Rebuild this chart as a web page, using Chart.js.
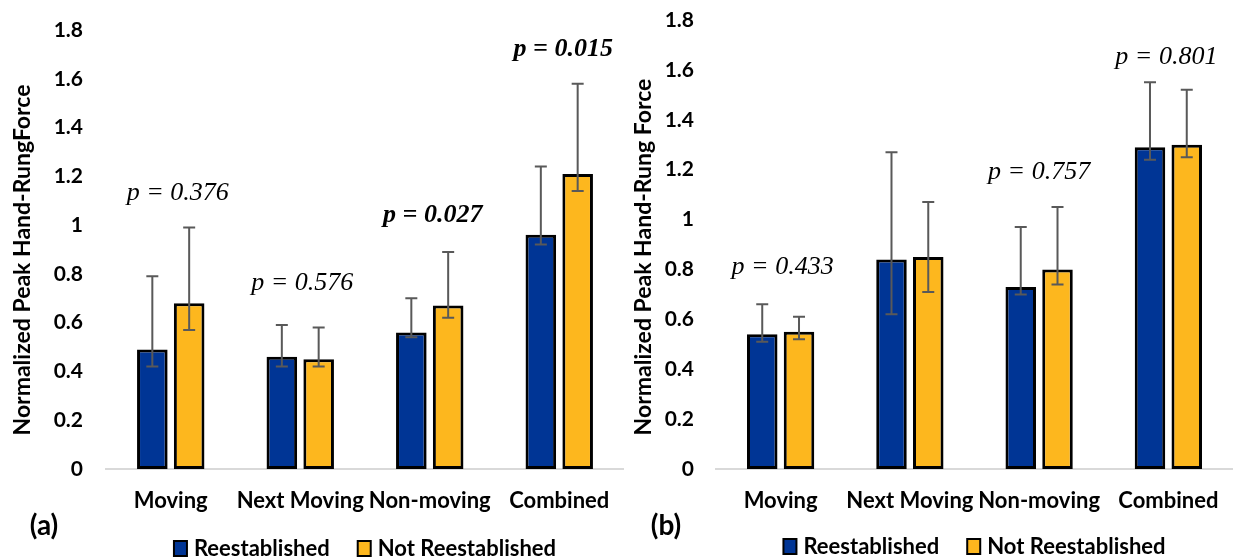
<!DOCTYPE html>
<html>
<head>
<meta charset="utf-8">
<script src="https://cdn.jsdelivr.net/npm/chart.js@4.4.1/dist/chart.umd.min.js"></script>
<style>
  html, body { margin: 0; padding: 0; background: #fff; }
  body { width: 1233px; height: 559px; position: relative; overflow: hidden; }
  .panel { position: absolute; top: 0; height: 559px; }
  #wrapA { left: 0; width: 624px; }
  #wrapB { left: 620px; width: 613px; }
</style>
</head>
<body>
<div class="panel" id="wrapA"><canvas id="chartA"></canvas></div>
<div class="panel" id="wrapB"><canvas id="chartB"></canvas></div>
<script>
const categories = ["Moving", "Next Moving", "Non-moving", "Combined"];
const seriesNames = ["Reestablished", "Not Reestablished"];
const yTicks = [0, 0.2, 0.4, 0.6, 0.8, 1, 1.2, 1.4, 1.6, 1.8];

// panel (a)
const aReest = [0.49, 0.46, 0.56, 0.96];
const aReestLow = [0.42, 0.42, 0.54, 0.92];
const aReestHigh = [0.79, 0.59, 0.7, 1.24];
const aNotReest = [0.68, 0.45, 0.67, 1.21];
const aNotReestLow = [0.57, 0.42, 0.62, 1.14];
const aNotReestHigh = [0.99, 0.58, 0.89, 1.58];
const aPValues = ["p = 0.376", "p = 0.576", "p = 0.027", "p = 0.015"];
const aPBold = [false, false, true, true];

// panel (b)
const bReest = [0.54, 0.84, 0.73, 1.29];
const bReestLow = [0.51, 0.62, 0.7, 1.24];
const bReestHigh = [0.66, 1.27, 0.97, 1.55];
const bNotReest = [0.55, 0.85, 0.8, 1.3];
const bNotReestLow = [0.52, 0.71, 0.74, 1.25];
const bNotReestHigh = [0.61, 1.07, 1.05, 1.52];
const bPValues = ["p = 0.433", "", "p = 0.757", "p = 0.801"];
const bPBold = [false, false, false, false];

const BLUE = "#003595";
const ORANGE = "#fdb71e";
const SANS = "Lato, 'Open Sans', sans-serif";
const SERIF = "'Liberation Serif', 'DejaVu Serif', serif";

// error bars, p-values, y title, panel letter and legend
const extrasPlugin = {
  id: "extras",
  afterDatasetsDraw(chart, args, opts) {
    const ctx = chart.ctx;
    const y = chart.scales.y;
    const x = chart.scales.x;
    ctx.save();
    ctx.strokeStyle = "#595959";
    ctx.lineWidth = 2;
    chart.data.datasets.forEach((ds, di) => {
      const meta = chart.getDatasetMeta(di);
      meta.data.forEach((bar, i) => {
        const lo = y.getPixelForValue(ds.errLow[i]);
        const hi = y.getPixelForValue(ds.errHigh[i]);
        ctx.beginPath();
        ctx.moveTo(bar.x, lo);
        ctx.lineTo(bar.x, hi);
        ctx.moveTo(bar.x - 6, lo);
        ctx.lineTo(bar.x + 6, lo);
        ctx.moveTo(bar.x - 6, hi);
        ctx.lineTo(bar.x + 6, hi);
        ctx.stroke();
      });
    });

    ctx.fillStyle = "#000";
    ctx.textAlign = "center";
    ctx.textBaseline = "middle";
    opts.pValues.forEach((txt, i) => {
      if (!txt) return;
      ctx.font = (opts.pBold[i] ? "italic bold " : "italic ") + "26px " + SERIF;
      ctx.fillText(txt, x.getPixelForValue(i) + opts.pDx[i], y.getPixelForValue(opts.pY[i]));
    });

    // rotated y title
    ctx.save();
    ctx.translate(opts.titleX, opts.titleY);
    ctx.rotate(-Math.PI / 2);
    ctx.font = "bold 23px " + SANS;
    ctx.fillText(opts.yTitle, 0, 0);
    ctx.restore();

    ctx.font = "bold 28px " + SANS;
    ctx.fillText(opts.letter, opts.letterX, 526);

    // legend
    ctx.font = "bold 22px " + SANS;
    const box = 13, gap = 7, sep = 28;
    const items = chart.data.datasets.map(d => ({ label: d.label, color: d.backgroundColor, w: ctx.measureText(d.label).width }));
    let total = items.reduce((s, it) => s + box + gap + it.w, 0) + sep * (items.length - 1);
    let lx = (chart.chartArea.left + chart.chartArea.right) / 2 - total / 2;
    const ly = opts.legendY;
    ctx.textAlign = "left";
    items.forEach(it => {
      ctx.fillStyle = it.color;
      ctx.fillRect(lx, ly - 7, box, 15);
      ctx.strokeStyle = "#000";
      ctx.lineWidth = 2;
      ctx.strokeRect(lx, ly - 7, box, 15);
      ctx.fillStyle = "#000";
      ctx.fillText(it.label, lx + box + gap, ly + 1);
      lx += box + gap + it.w + sep;
    });
    ctx.restore();
  }
};

function makeChart(id, cfg) {
  return new Chart(document.getElementById(id), {
    type: "bar",
    data: {
      labels: categories,
      datasets: [
        { label: seriesNames[0], data: cfg.s1, errLow: cfg.s1Low, errHigh: cfg.s1High,
          backgroundColor: BLUE, borderColor: "#000", borderWidth: 3, borderSkipped: false },
        { label: seriesNames[1], data: cfg.s2, errLow: cfg.s2Low, errHigh: cfg.s2High,
          backgroundColor: ORANGE, borderColor: "#000", borderWidth: 3, borderSkipped: false },
      ],
    },
    options: {
      responsive: true,
      maintainAspectRatio: false,
      animation: false,
      categoryPercentage: 0.569,
      barPercentage: 0.83,
      layout: { padding: { top: cfg.top, left: 0, right: 0, bottom: 0 } },
      plugins: {
        legend: { display: false },
        tooltip: { enabled: false },
        extras: cfg.extras,
      },
      scales: {
        x: {
          grid: { display: false, drawTicks: false },
          border: { display: true, color: "#d9d9d9", width: 2 },
          ticks: { color: "#000", font: { family: SANS, size: 22, weight: "bold" }, padding: 19, maxRotation: 0, autoSkip: false },
          afterFit: (scale) => { scale.height = 90; scale.paddingLeft = 0; scale.paddingRight = 0; },
        },
        y: {
          min: 0,
          max: 1.8,
          grid: { display: false, drawTicks: false },
          border: { display: false },
          afterBuildTicks: (scale) => { scale.ticks = yTicks.map(v => ({ value: v })); },
          ticks: {
            color: "#000",
            font: { family: SANS, size: 21, weight: "bold" },
            padding: cfg.tickPad,
            callback: (v) => String(+v.toFixed(1)),
          },
          afterFit: (scale) => { scale.width = cfg.yWidth; scale.paddingTop = 0; scale.paddingBottom = 0; },
        },
      },
    },
    plugins: [extrasPlugin],
  });
}

makeChart("chartA", {
  s1: aReest, s1Low: aReestLow, s1High: aReestHigh,
  s2: aNotReest, s2Low: aNotReestLow, s2High: aNotReestHigh,
  top: 30, yWidth: 106, tickPad: 23,
  extras: { pValues: aPValues, pBold: aPBold, pY: [1.13, 0.76, 1.04, 1.72], pDx: [7, 2, 3, 4],
            yTitle: "Normalized Peak Hand-RungForce", titleX: 23, titleY: 260,
            letter: "(a)", letterX: 44, legendY: 548 },
});

makeChart("chartB", {
  s1: bReest, s1Low: bReestLow, s1High: bReestHigh,
  s2: bNotReest, s2Low: bNotReestLow, s2High: bNotReestHigh,
  top: 20, yWidth: 96, tickPad: 22,
  extras: { pValues: bPValues, pBold: bPBold, pY: [0.81, 0, 1.19, 1.65], pDx: [2, 0, 0, -2],
            yTitle: "Normalized Peak Hand-Rung Force", titleX: 24, titleY: 257,
            letter: "(b)", letterX: 46, legendY: 546 },
});
</script>
</body>
</html>
